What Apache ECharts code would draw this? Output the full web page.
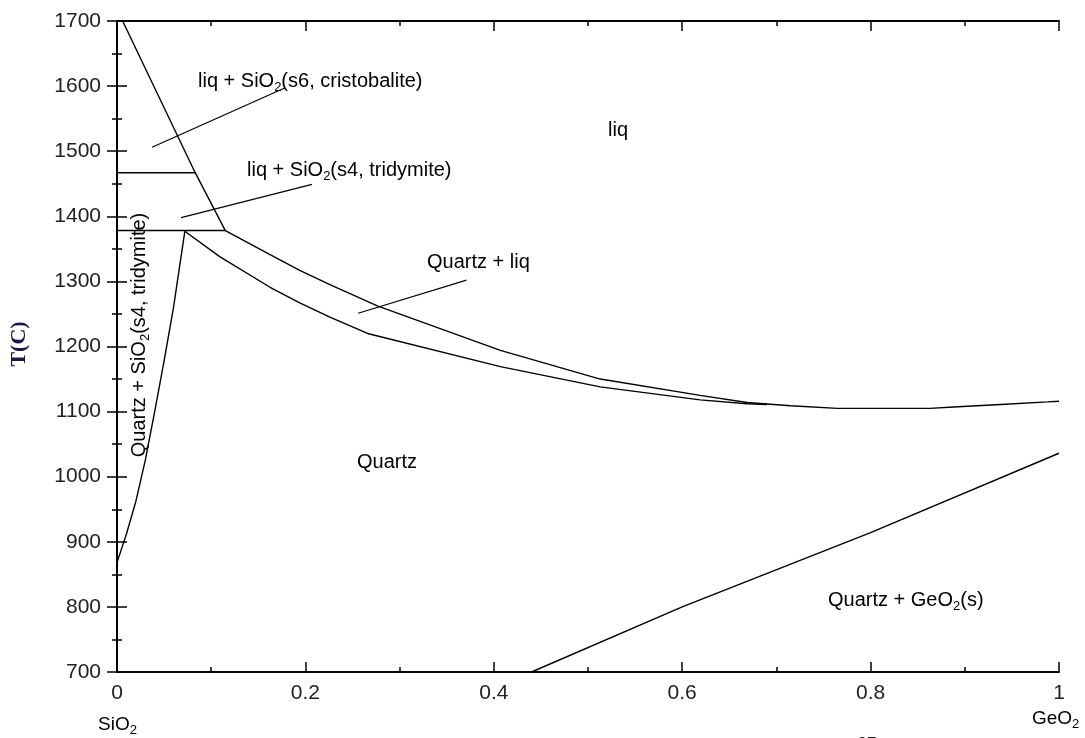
<!DOCTYPE html>
<html>
<head>
<meta charset="utf-8">
<script src="https://cdn.jsdelivr.net/npm/echarts@6/dist/echarts.min.js"></script>
<style>
html,body{margin:0;padding:0;background:#fff;}
#chart{width:1085px;height:738px;}
</style>
</head>
<body>
<div id="chart"></div>
<script>
// ---- data (x = mole fraction GeO2, T in C) ----
const xTickLabels = ['0', '0.2', '0.4', '0.6', '0.8', '1'];
const yTickLabels = ['700', '800', '900', '1000', '1100', '1200', '1300', '1400', '1500', '1600', '1700'];

const liquidusSilica = [[0.006, 1700], [0.04, 1597], [0.083, 1467], [0.115, 1378]];
const cristobaliteTridymite = [[0, 1467], [0.083, 1467]];
const eutecticLine = [[0, 1378], [0.115, 1378]];
const tridymiteSolvus = [[0, 868], [0.01, 912], [0.02, 962], [0.03, 1025], [0.04, 1100], [0.05, 1178], [0.06, 1260], [0.072, 1377]];
const quartzLiquidus = [[0.115, 1378], [0.1625, 1341], [0.194, 1317], [0.226, 1295], [0.277, 1262], [0.407, 1194], [0.513, 1150], [0.619, 1125], [0.669, 1114], [0.715, 1109], [0.765, 1105], [0.863, 1105], [0.888, 1107], [0.938, 1111], [0.988, 1115], [1, 1116]];
const quartzSolidus = [[0.072, 1377], [0.109, 1338], [0.1625, 1291], [0.194, 1267], [0.226, 1245], [0.266, 1220], [0.407, 1169], [0.513, 1138], [0.619, 1118], [0.669, 1112], [0.69, 1111]];
const geo2Solvus = [[0.44, 700], [0.6, 800], [0.8, 914], [1, 1036]];
const leaderCristobalite = [[0.0372, 1506], [0.178, 1597]];
const leaderTridymite = [[0.068, 1398], [0.207, 1449]];
const leaderQuartzLiq = [[0.256, 1251], [0.371, 1302]];

const chart = echarts.init(document.getElementById('chart'));
const FONT = '"Liberation Sans", Arial, sans-serif';
const lineSeries = (data, w) => ({
  type: 'line', data: data, showSymbol: false, symbol: 'none', silent: true,
  lineStyle: { color: '#000', width: w || 1.4 }, animation: false, z: 3
});
const subRich = {
  a: { fontSize: 20, fontFamily: FONT, color: '#222', lineHeight: 26 },
  s: { fontSize: 13, fontFamily: FONT, color: '#222', lineHeight: 13, verticalAlign: 'bottom' }
};
const endRich = {
  a: { fontSize: 19, fontFamily: FONT, color: '#222', lineHeight: 24 },
  s: { fontSize: 13, fontFamily: FONT, color: '#222', lineHeight: 13, verticalAlign: 'bottom' }
};
const txt = (x, y, text, align, rich) => ({
  type: 'text', x: x, y: y, z: 10,
  style: { text: text, rich: rich || subRich, verticalAlign: 'middle', align: align || 'left' }
});

const axisCommon = {
  axisLine: { show: true, lineStyle: { color: '#000', width: 2 } },
  axisTick: { show: true, inside: true, length: 10, lineStyle: { color: '#000', width: 1.5 } },
  minorTick: { show: true, splitNumber: 2, length: 5, lineStyle: { color: '#000', width: 1.5 } },
  splitLine: { show: false },
  minorSplitLine: { show: false }
};

chart.setOption({
  animation: false,
  backgroundColor: '#fff',
  grid: { left: 117, right: 26, top: 21, bottom: 66, containLabel: false },
  xAxis: [
    Object.assign({
      type: 'value', min: 0, max: 1, interval: 0.2, position: 'bottom',
      axisLabel: { margin: 11, fontSize: 21, fontFamily: FONT, color: '#222',
        formatter: (v) => xTickLabels[Math.round(v / 0.2)] }
    }, axisCommon),
    Object.assign({
      type: 'value', min: 0, max: 1, interval: 0.2, position: 'top',
      axisLabel: { show: false }
    }, axisCommon)
  ],
  yAxis: [
    Object.assign({
      type: 'value', min: 700, max: 1700, interval: 100, position: 'left',
      axisLabel: { margin: 16, fontSize: 21, fontFamily: FONT, color: '#222',
        formatter: (v) => yTickLabels[Math.round((v - 700) / 100)] }
    }, axisCommon),
    Object.assign({
      type: 'value', min: 700, max: 1700, interval: 100, position: 'right',
      axisLabel: { show: false }
    }, axisCommon)
  ],
  series: [
    lineSeries(liquidusSilica),
    lineSeries(cristobaliteTridymite, 1.5),
    lineSeries(eutecticLine, 1.5),
    lineSeries(tridymiteSolvus),
    lineSeries(quartzLiquidus),
    lineSeries(quartzSolidus),
    lineSeries(geo2Solvus),
    lineSeries(leaderCristobalite, 1.2),
    lineSeries(leaderTridymite, 1.2),
    lineSeries(leaderQuartzLiq, 1.2)
  ],
  graphic: [
    txt(198, 81, '{a|liq + SiO}{s|2}{a|(s6, cristobalite)}'),
    txt(247, 170, '{a|liq + SiO}{s|2}{a|(s4, tridymite)}'),
    txt(618, 130, '{a|liq}', 'center'),
    txt(427, 262, '{a|Quartz + liq}'),
    txt(357, 462, '{a|Quartz}'),
    txt(828, 600, '{a|Quartz + GeO}{s|2}{a|(s)}'),
    {
      type: 'text', x: 139, y: 335, rotation: Math.PI / 2, z: 10,
      style: { text: '{a|Quartz + SiO}{s|2}{a|(s4, tridymite)}', rich: subRich, align: 'center', verticalAlign: 'middle' }
    },
    txt(98, 725, '{a|SiO}{s|2}', 'left', endRich),
    txt(1032, 719, '{a|GeO}{s|2}', 'left', endRich),
    {
      type: 'text', x: 19, y: 344, rotation: Math.PI / 2, z: 10,
      style: { text: 'T(C)', fill: '#1a1a40', font: 'bold 22px "Liberation Serif", "Times New Roman", serif', align: 'center', verticalAlign: 'middle' }
    },
    {
      type: 'text', x: 867, y: 744, z: 10,
      style: { text: '87', fill: '#222', font: '17px ' + FONT, align: 'center', verticalAlign: 'middle' }
    }
  ]
});
</script>
</body>
</html>
